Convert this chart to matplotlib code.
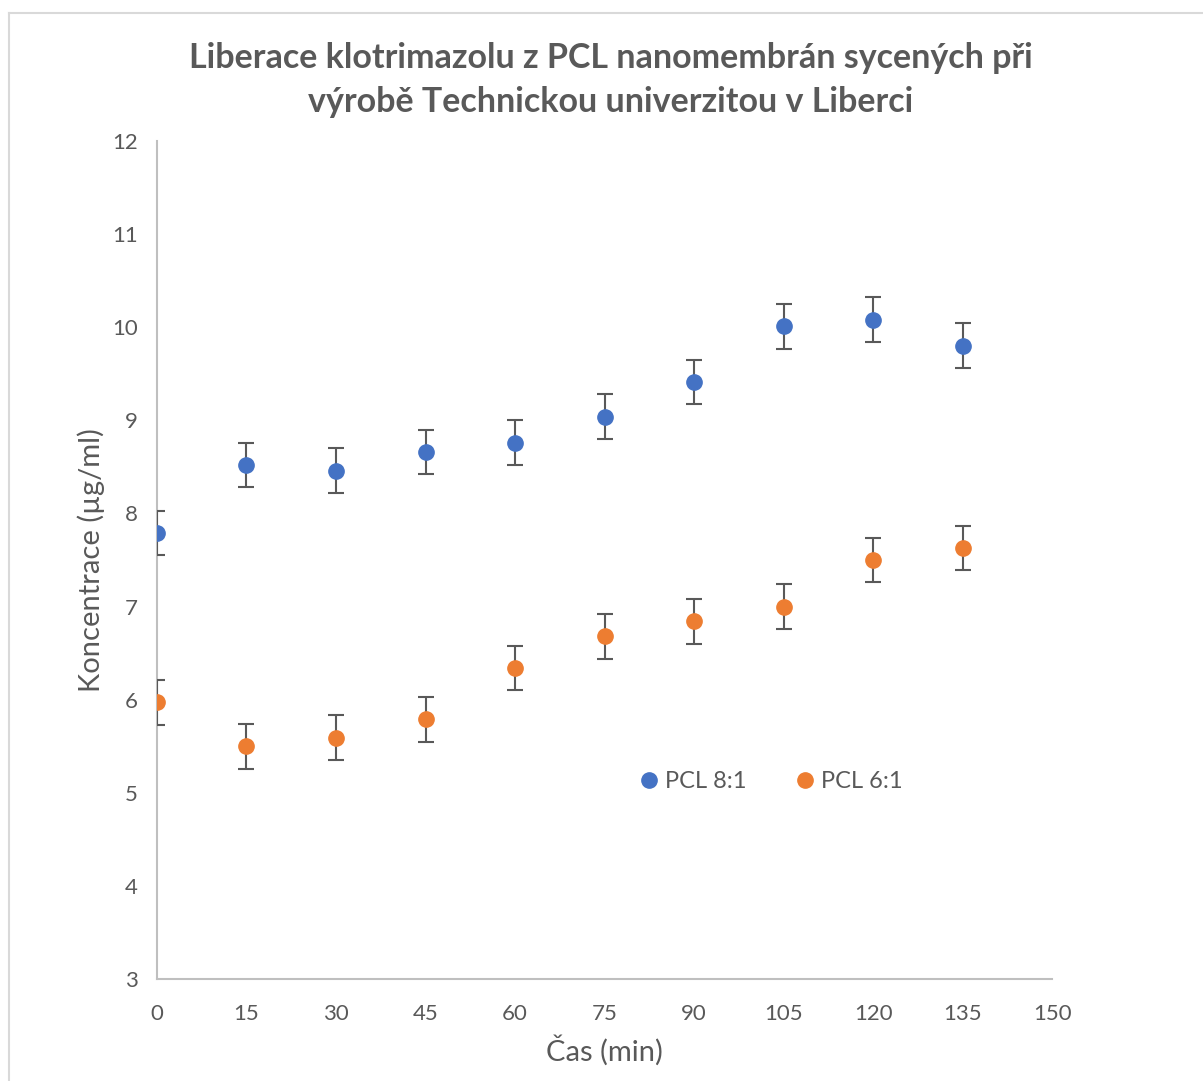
import matplotlib.pyplot as plt
from matplotlib.lines import Line2D

plt.rcParams['font.family'] = ['Lato', 'DejaVu Sans']

cas = [0, 15, 30, 45, 60, 75, 90, 105, 120, 135]
pcl_81 = [7.79, 8.52, 8.46, 8.66, 8.76, 9.04, 9.41, 10.01, 10.08, 9.80]
pcl_61 = [5.97, 5.50, 5.59, 5.79, 6.34, 6.68, 6.84, 7.00, 7.50, 7.63]
chyba = 0.24
xticks = [0, 15, 30, 45, 60, 75, 90, 105, 120, 135, 150]
yticks = [3, 4, 5, 6, 7, 8, 9, 10, 11, 12]

seda = '#595959'
fig = plt.figure(figsize=(12.03, 10.81), dpi=100)
ax = fig.add_axes([0.1305, 0.0944, 0.744, 0.7752])

ax.errorbar(cas, pcl_81, yerr=chyba, fmt='o', color='#4472C4', ms=11,
            ecolor='#595959', elinewidth=1.5, capsize=6, capthick=1.5, zorder=3)
ax.errorbar(cas, pcl_61, yerr=chyba, fmt='o', color='#ED7D31', ms=11,
            ecolor='#595959', elinewidth=1.5, capsize=6, capthick=1.5, zorder=3)

ax.set_xlim(0, 150)
ax.set_ylim(3, 12)
ax.set_xticks(xticks)
ax.set_yticks(yticks)
ax.tick_params(length=0, labelsize=16, colors=seda)
ax.tick_params(axis='x', pad=18)
ax.tick_params(axis='y', pad=14)
for s in ['top', 'right']:
    ax.spines[s].set_visible(False)
for s in ['left', 'bottom']:
    ax.spines[s].set_color('#bfbfbf')
    ax.spines[s].set_linewidth(1.5)

ax.set_xlabel('Čas (min)', fontsize=21, color=seda, labelpad=8)
ax.set_ylabel('Koncentrace (µg/ml)', fontsize=21, color=seda, labelpad=5)
fig.text(0.508, 0.926, 'Liberace klotrimazolu z PCL nanomembrán sycených při\nvýrobě Technickou univerzitou v Liberci',
         ha='center', va='center', fontsize=24.5, fontweight='bold', color=seda, linespacing=1.45)

handles = [Line2D([], [], ls='', marker='o', color='#4472C4', ms=11),
           Line2D([], [], ls='', marker='o', color='#ED7D31', ms=11)]
fig.legend(handles, ['PCL 8:1', 'PCL 6:1'], loc='center', bbox_to_anchor=(770 / 1203, 1 - 782 / 1081),
           ncol=2, frameon=False, fontsize=17, labelcolor=seda, handletextpad=0.15,
           columnspacing=2.0, handlelength=1)

# ramecek grafu
fig.add_artist(Line2D([9 / 1203, 1], [1 - 13 / 1081] * 2, color='#d9d9d9', lw=1.5))
fig.add_artist(Line2D([9 / 1203] * 2, [0, 1 - 13 / 1081], color='#d9d9d9', lw=1.5))

fig.savefig('out.png', dpi=100)
